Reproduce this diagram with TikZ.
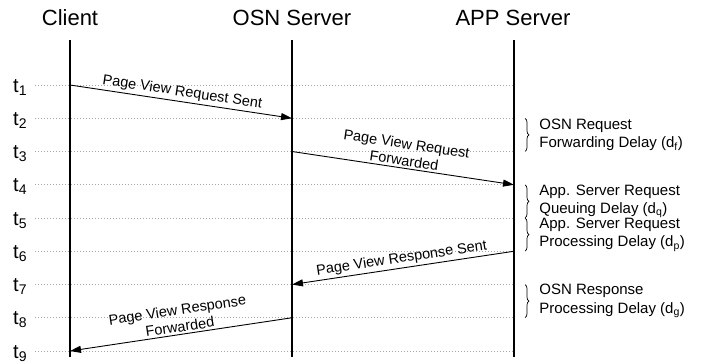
\documentclass[tikz,border=0pt]{standalone}
\usepackage{fontspec}
\setmainfont{Liberation Sans}
\usetikzlibrary{arrows.meta,decorations.pathreplacing}

\begin{document}
\begin{tikzpicture}[x=1pt,y=1pt,
  head/.style={font=\fontsize{22}{26}\selectfont,anchor=base},
  tlabel/.style={font=\fontsize{20}{24}\selectfont,anchor=base west,inner sep=0pt},
  tick/.style={gray!70,line width=0.7pt,dash pattern=on 0.7pt off 2.3pt},
  lifeline/.style={line width=2.6pt},
  msg/.style={-{Triangle[length=11pt,width=7pt]},line width=0.9pt},
  msglabel/.style={font=\fontsize{14.5}{17}\selectfont,sloped,above,align=center,inner sep=2pt},
  delay/.style={decorate,decoration={brace,amplitude=4pt},line width=0.7pt},
  delaylabel/.style={font=\fontsize{15}{18.5}\selectfont,anchor=west,align=left,xshift=12pt,inner sep=2pt}]
  \useasboundingbox (0,0) rectangle (705,-364);

  \node[head] (client) at (70,-25.5) {Client};
  \node[head] (osn) at (292,-25.5) {OSN Server};
  \node[head] (app) at (513,-25.5) {APP Server};

  % time rows t1..t9
  \foreach \i [evaluate=\i as \y using 85+(\i-1)*33.25] in {1,...,9} {
    \coordinate (g\i) at (35,-\y);
    \coordinate (c\i) at (70,-\y);
    \coordinate (o\i) at (292,-\y);
    \coordinate (a\i) at (514,-\y);
    \coordinate (b\i) at (525,-\y);
    \node[tlabel] (t\i) at (13,-\y-7) {t\textsubscript{\i}};
    \draw[tick] (g\i) -- (a\i);
  }

  \draw[lifeline] (70,-40) -- (70,-357);
  \draw[lifeline] (292,-40) -- (292,-357);
  \draw[lifeline] (514,-40) -- (514,-357);

  \draw[msg] (c1) -- node[msglabel] {Page View Request Sent} (o2);
  \draw[msg] (o3) -- node[msglabel] {Page View Request\\Forwarded} (a4);
  \draw[msg] (a6) -- node[msglabel] {Page View Response Sent} (o7);
  \draw[msg] (o8) -- node[msglabel] {Page View Response\\Forwarded} (c9);

  \draw[delay] (b2) -- node[delaylabel] (df) {OSN Request\\Forwarding Delay (d\textsubscript{f})} (b3);
  \draw[delay] (b4) -- node[delaylabel] (dq) {App. Server Request\\Queuing Delay (d\textsubscript{q})} (b5);
  \draw[delay] (b5) -- node[delaylabel] (dp) {App. Server Request\\Processing Delay (d\textsubscript{p})} (b6);
  \draw[delay] (b7) -- node[delaylabel] (dg) {OSN Response\\Processing Delay (d\textsubscript{g})} (b8);

\end{tikzpicture}
\end{document}
